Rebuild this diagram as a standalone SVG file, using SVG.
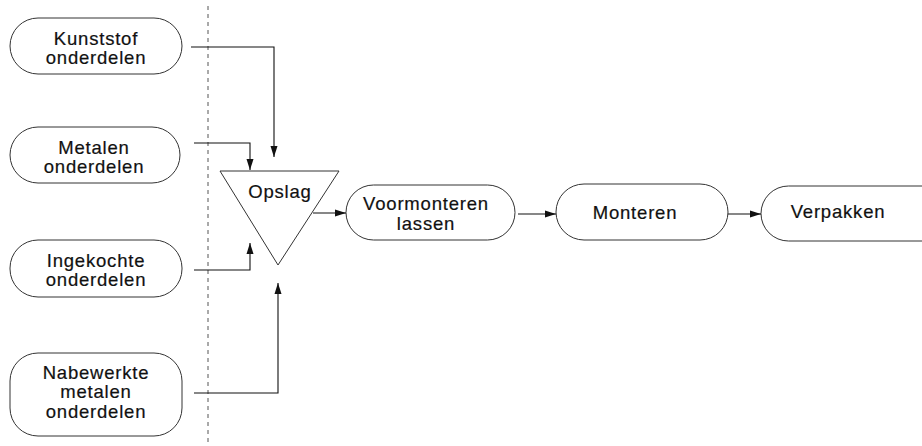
<svg xmlns="http://www.w3.org/2000/svg" width="922" height="446" viewBox="0 0 922 446">
  <defs>
    <marker id="arrow" viewBox="0 0 10 10" refX="10" refY="5" markerWidth="11" markerHeight="11" markerUnits="userSpaceOnUse" orient="auto">
      <path d="M0,1.8 L10,5 L0,8.2 Z" fill="#111"/>
    </marker>
    <style>
      .box { fill: #fff; stroke: #333; stroke-width: 1; }
      .lbl { font-family: "Liberation Sans", Arial, sans-serif; font-size: 18.5px; letter-spacing: 0.8px; fill: #111; text-anchor: middle; stroke: #111; stroke-width: 0.2; }
      .conn { fill: none; stroke: #111; stroke-width: 1.1; }
      .divider { stroke: #555; stroke-width: 1; stroke-dasharray: 4 4; }
    </style>
  </defs>
  <rect width="922" height="446" fill="#fff"/>

  <!-- boundary line between suppliers and plant -->
  <line class="divider" x1="208" y1="6" x2="208" y2="446"/>

  <g id="kunststof">
    <rect class="box" x="10" y="18" width="172" height="56" rx="28"/>
    <text class="lbl" x="96" y="45">Kunststof</text>
    <text class="lbl" x="96" y="64">onderdelen</text>
  </g>

  <g id="metalen">
    <rect class="box" x="10" y="127" width="170" height="56" rx="28"/>
    <text class="lbl" x="94" y="154">Metalen</text>
    <text class="lbl" x="94" y="173">onderdelen</text>
  </g>

  <g id="ingekochte">
    <rect class="box" x="10" y="240" width="172" height="57" rx="28"/>
    <text class="lbl" x="96" y="267">Ingekochte</text>
    <text class="lbl" x="96" y="286">onderdelen</text>
  </g>

  <g id="nabewerkte">
    <rect class="box" x="10" y="353" width="172" height="83" rx="28"/>
    <text class="lbl" x="96" y="379">Nabewerkte</text>
    <text class="lbl" x="96" y="398">metalen</text>
    <text class="lbl" x="96" y="418">onderdelen</text>
  </g>

  <g id="opslag">
    <polygon class="box" points="220,171 339,171 278,265"/>
    <text class="lbl" x="280" y="198">Opslag</text>
  </g>

  <g id="voormonteren">
    <rect class="box" x="346" y="185" width="169" height="55" rx="27.5"/>
    <text class="lbl" x="426" y="210">Voormonteren</text>
    <text class="lbl" x="426" y="230">lassen</text>
  </g>

  <g id="monteren">
    <rect class="box" x="556" y="184" width="172" height="56" rx="28"/>
    <text class="lbl" x="635" y="219">Monteren</text>
  </g>

  <g id="verpakken">
    <rect class="box" x="761" y="186" width="190" height="55" rx="27.5"/>
    <text class="lbl" x="838" y="218">Verpakken</text>
  </g>

  <g id="connectors">
    <polyline class="conn" points="191,47 274,47 274,157" marker-end="url(#arrow)"/>
    <polyline class="conn" points="194,143 250,143 250,170" marker-end="url(#arrow)"/>
    <polyline class="conn" points="194,270 250,270 250,243" marker-end="url(#arrow)"/>
    <polyline class="conn" points="194,393 278,393 278,283" marker-end="url(#arrow)"/>
    <line class="conn" x1="313" y1="213" x2="346" y2="213" marker-end="url(#arrow)"/>
    <line class="conn" x1="518" y1="214" x2="556" y2="214" marker-end="url(#arrow)"/>
    <line class="conn" x1="728" y1="214" x2="761" y2="214" stroke="#555" marker-end="url(#arrow)"/>
  </g>
</svg>
